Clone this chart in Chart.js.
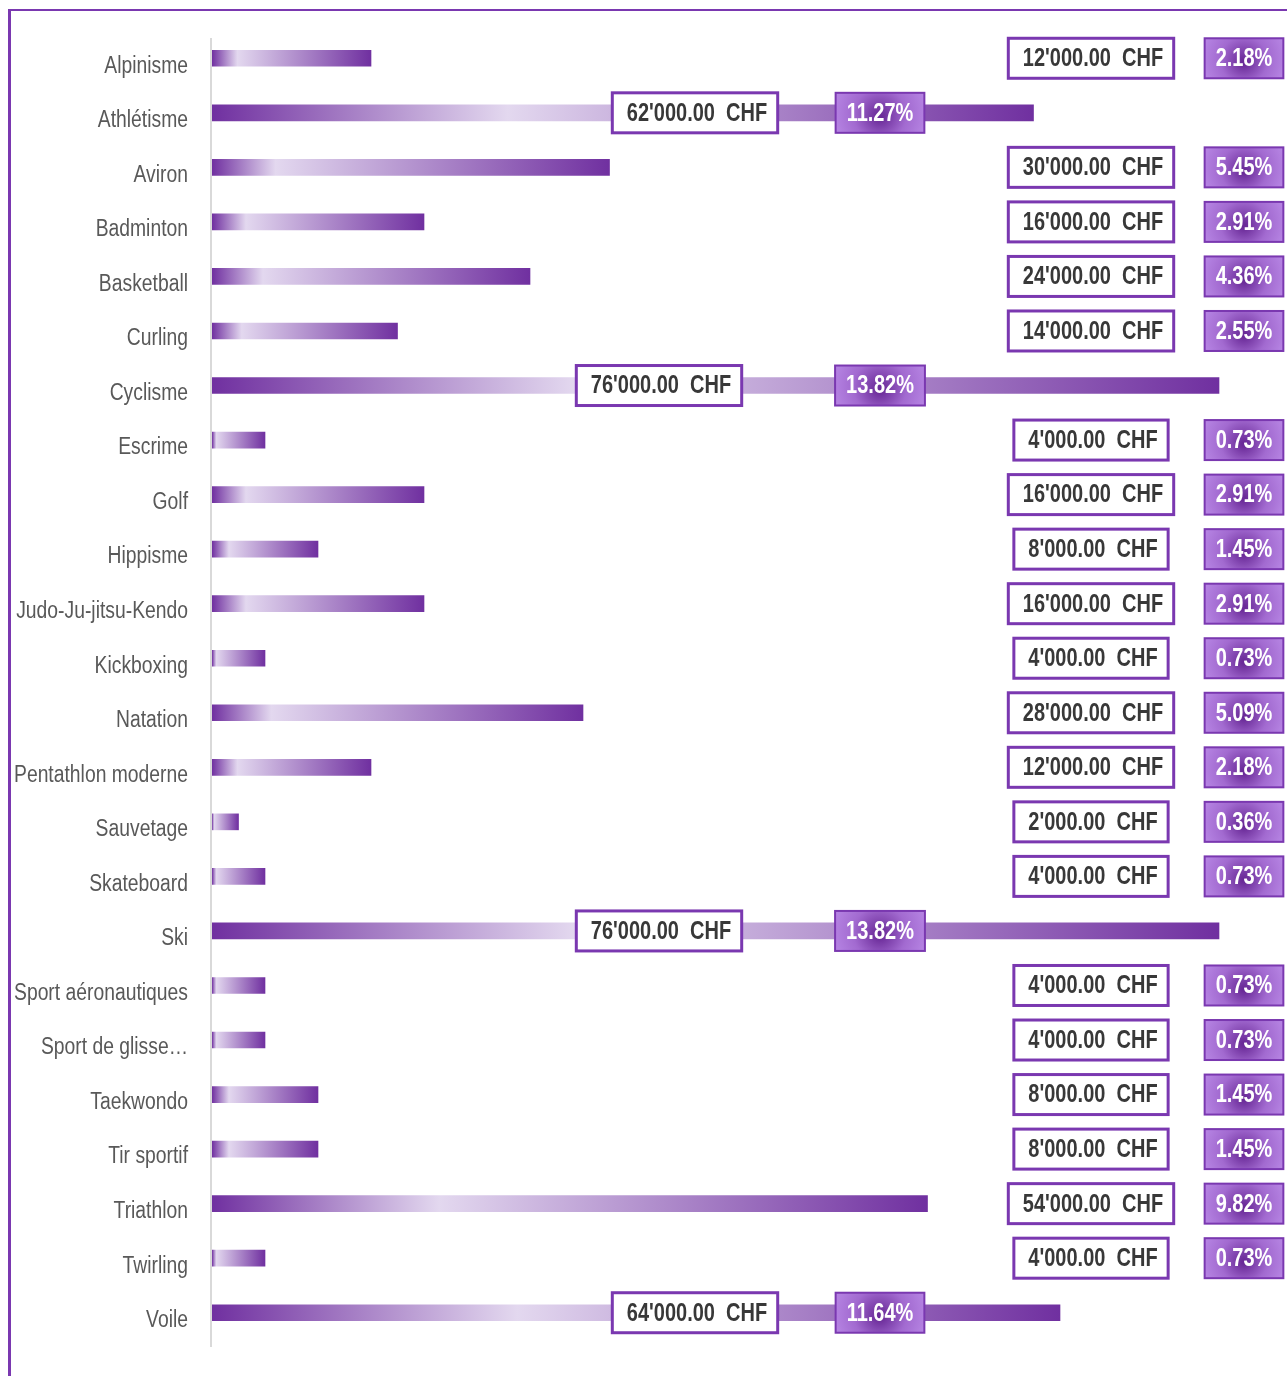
<!DOCTYPE html>
<html lang="fr">
<head>
    <meta charset="UTF-8">
    <title>Subventions par sport</title>
    <script src="https://cdn.jsdelivr.net/npm/chart.js"></script>
    <style>
        * {
            margin: 0;
            padding: 0;
            box-sizing: border-box;
        }

        body {
            width: 1287px;
            height: 1376px;
            overflow: hidden;
            background: #fff;
            position: relative;
        }

        /* purple frame, only left and top edges are visible */
        .frame {
            position: absolute;
            left: 8px;
            top: 9px;
            width: 1300px;
            height: 1400px;
            border-left: 3px solid #7a38b0;
            border-top: 2px solid #7a38b0;
        }

        .wrap {
            position: absolute;
            left: 0;
            top: 0;
            width: 1287px;
            height: 1376px;
        }
    </style>
</head>
<body>
    <div class="frame"></div>
    <div class="wrap">
        <canvas id="sportChart"></canvas>
    </div>

    <script>
        // data
        const sports = [
            'Alpinisme', 'Athlétisme', 'Aviron', 'Badminton', 'Basketball', 'Curling',
            'Cyclisme', 'Escrime', 'Golf', 'Hippisme', 'Judo-Ju-jitsu-Kendo', 'Kickboxing',
            'Natation', 'Pentathlon moderne', 'Sauvetage', 'Skateboard', 'Ski',
            'Sport aéronautiques', 'Sport de glisse…', 'Taekwondo', 'Tir sportif',
            'Triathlon', 'Twirling', 'Voile'
        ];
        const amounts = [
            12000, 62000, 30000, 16000, 24000, 14000,
            76000, 4000, 16000, 8000, 16000, 4000,
            28000, 12000, 2000, 4000, 76000,
            4000, 4000, 8000, 8000,
            54000, 4000, 64000
        ];
        const total = amounts.reduce((s, v) => s + v, 0);

        const DARK = '#7030a0';
        const LIGHT = '#e3d8ef';

        function fmtChf(v) {
            const s = v.toFixed(2);
            const parts = s.split('.');
            const int = parts[0].replace(/\B(?=(\d{3})+(?!\d))/g, "'");
            return int + '.' + parts[1] + '  CHF';
        }

        // gradient along each bar: dark -> light -> dark
        function barGradient(context) {
            const chart = context.chart;
            const area = chart.chartArea;
            if (!area) return DARK;
            const xs = chart.scales.x;
            const v = amounts[context.dataIndex];
            const x0 = xs.getPixelForValue(0);
            const x1 = xs.getPixelForValue(v);
            const len = x1 - x0;
            let f = 0.16 + 0.2 * Math.min(1, Math.max(0, (len - 400) / 400));
            if (len < 80) f = 0.08;
            const g = chart.ctx.createLinearGradient(x0, 0, x1, 0);
            g.addColorStop(0, DARK);
            g.addColorStop(f, LIGHT);
            g.addColorStop(1, DARK);
            return g;
        }

        // text squeezed horizontally (the original uses a condensed face)
        function narrowText(ctx, text, x, y, squeeze, align) {
            ctx.save();
            ctx.translate(x, y);
            ctx.scale(squeeze, 1);
            ctx.textAlign = align || 'center';
            ctx.textBaseline = 'middle';
            ctx.fillText(text, 0, 1);
            ctx.restore();
        }

        const VALUE_FONT = 'bold 25px "Liberation Sans", sans-serif';
        const SQ = 0.8;

        const labelBoxes = {
            id: 'labelBoxes',
            afterDatasetsDraw(chart) {
                const ctx = chart.ctx;
                const area = chart.chartArea;
                const ys = chart.scales.y;
                const meta = chart.getDatasetMeta(0);

                // axis line
                ctx.save();
                ctx.strokeStyle = '#d9d9d9';
                ctx.lineWidth = 2;
                ctx.beginPath();
                ctx.moveTo(area.left - 1, area.top + 7);
                ctx.lineTo(area.left - 1, area.bottom + 7);
                ctx.stroke();
                ctx.restore();

                // category labels, placed with the y scale
                ctx.save();
                ctx.fillStyle = '#595959';
                ctx.font = '23px "Liberation Sans", sans-serif';
                sports.forEach((name, i) => {
                    const y = ys.getPixelForTick(i);
                    narrowText(ctx, name, area.left - 24, y + 7, 0.84, 'right');
                });
                ctx.restore();

                meta.data.forEach((bar, i) => {
                    const v = amounts[i];
                    const cy = bar.y;
                    const vText = fmtChf(v);
                    const pText = (v / total * 100).toFixed(2) + '%';
                    ctx.font = VALUE_FONT;
                    const vw = ctx.measureText(vText).width * SQ + 25;
                    const pw = ctx.measureText(pText).width * SQ + 22;
                    const h = 40;
                    let vx, px;
                    if (v >= 60000) {
                        vx = area.left + (v > 70000 ? 447 : 483);
                        px = area.left + 668;
                    } else {
                        vx = area.right - 181;
                        px = area.right - 28;
                    }

                    // value box
                    ctx.save();
                    ctx.fillStyle = '#ffffff';
                    ctx.fillRect(vx - vw / 2, cy - h / 2, vw, h);
                    ctx.strokeStyle = '#7a38b0';
                    ctx.lineWidth = 3;
                    ctx.strokeRect(vx - vw / 2, cy - h / 2, vw, h);
                    ctx.fillStyle = '#383838';
                    ctx.font = VALUE_FONT;
                    narrowText(ctx, vText, vx + 2, cy, SQ);
                    ctx.restore();

                    // percentage box
                    ctx.save();
                    const rg = ctx.createRadialGradient(px, cy + 4, 2, px, cy, pw / 2 + 2);
                    rg.addColorStop(0, '#6a2a98');
                    rg.addColorStop(0.55, '#a26ad0');
                    rg.addColorStop(1, '#b583e2');
                    ctx.fillStyle = rg;
                    ctx.fillRect(px - pw / 2, cy - h / 2, pw, h);
                    ctx.strokeStyle = '#7a38b0';
                    ctx.lineWidth = 2;
                    ctx.strokeRect(px - pw / 2, cy - h / 2, pw, h);
                    ctx.fillStyle = '#ffffff';
                    ctx.font = VALUE_FONT;
                    narrowText(ctx, pText, px, cy, SQ);
                    ctx.restore();
                });
            }
        };

        const ctx = document.getElementById('sportChart').getContext('2d');
        new Chart(ctx, {
            type: 'bar',
            data: {
                labels: sports,
                datasets: [{
                    data: amounts,
                    backgroundColor: barGradient,
                    borderWidth: 0,
                    barThickness: 16
                }]
            },
            options: {
                indexAxis: 'y',
                responsive: true,
                maintainAspectRatio: false,
                animation: false,
                layout: {
                    padding: { top: 31, bottom: 36, right: 15, left: 0 }
                },
                scales: {
                    x: {
                        display: false,
                        min: 0,
                        max: 80000
                    },
                    y: {
                        afterFit(scale) { scale.width = 212; },
                        grid: { display: false, drawTicks: false },
                        border: { display: false },
                        ticks: { display: false }
                    }
                },
                plugins: {
                    legend: { display: false },
                    tooltip: { enabled: false }
                }
            },
            plugins: [labelBoxes]
        });
    </script>
</body>
</html>
